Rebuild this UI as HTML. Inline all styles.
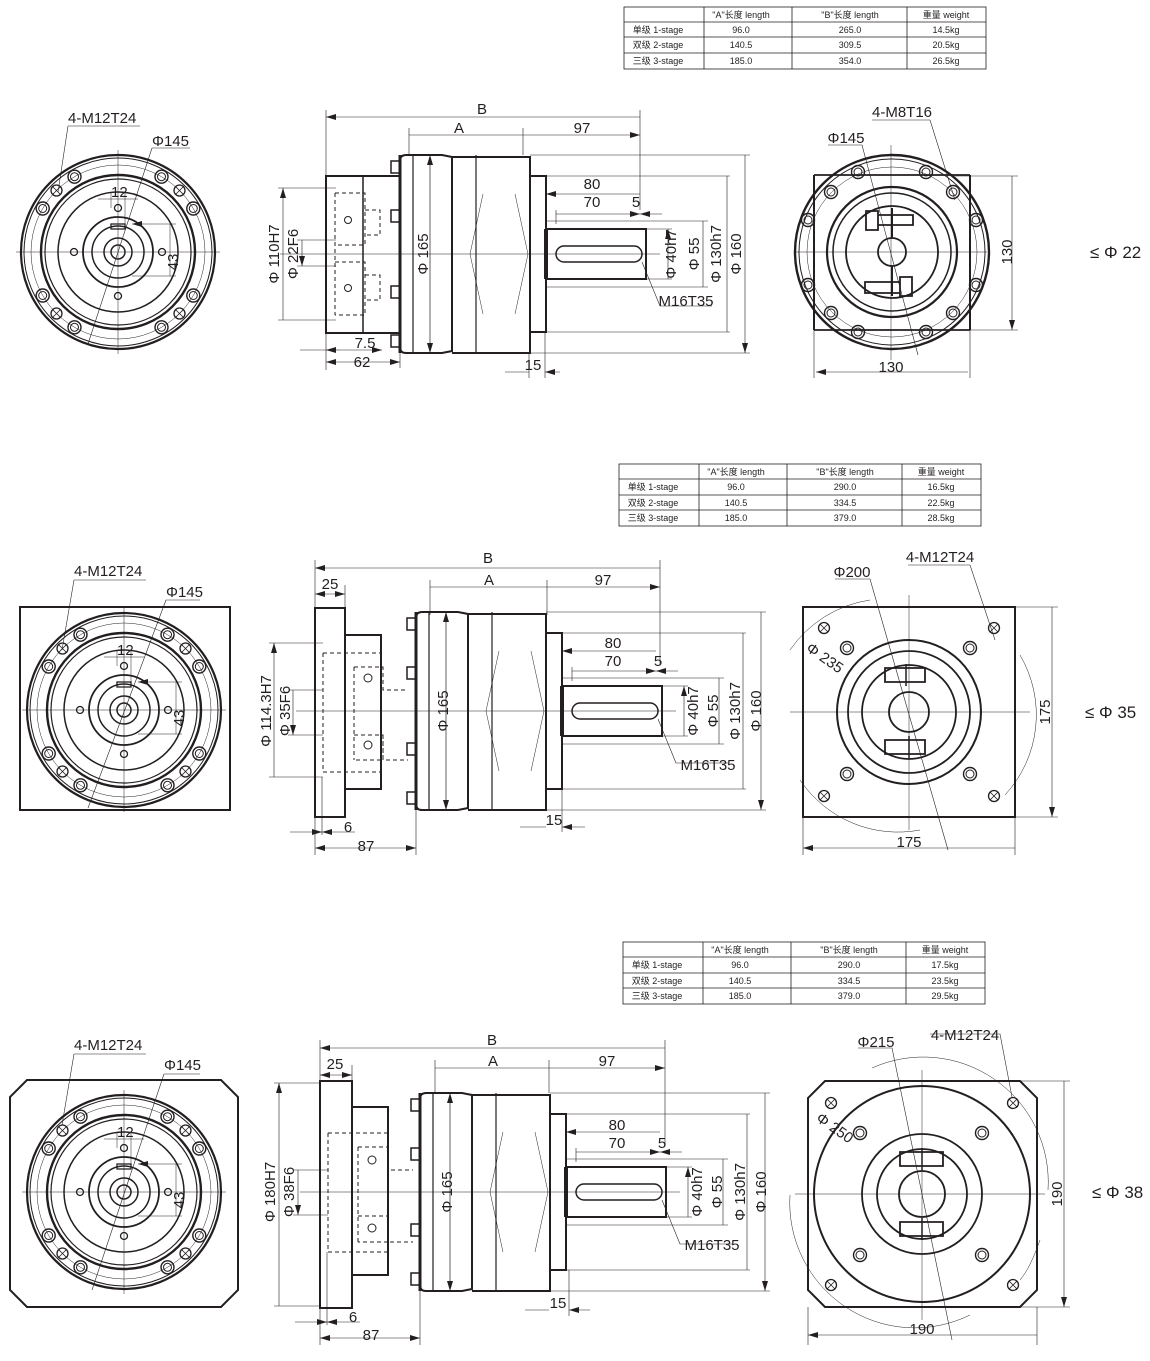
<!DOCTYPE html>
<html><head><meta charset="utf-8"><style>
body{margin:0;background:#fff;}
svg{display:block;}
text{font-family:"Liberation Sans Narrow","Liberation Sans","Noto Sans CJK SC",sans-serif;fill:#231f20;}
.t{font-size:9px;}
.d{font-size:15px;}
</style></head><body>
<svg width="1150" height="1361" viewBox="0 0 1150 1361" xmlns="http://www.w3.org/2000/svg">
<defs>
<marker id="a" markerWidth="10" markerHeight="6" refX="10" refY="3" orient="auto-start-reverse" markerUnits="userSpaceOnUse"><path d="M0,0 L10,3 L0,6 z" fill="#231f20"/></marker>
<g id="hb"><circle r="6.5" fill="none" stroke="#231f20" stroke-width="1.4"/><circle r="4" fill="none" stroke="#231f20" stroke-width="1"/></g>
<g id="hx"><circle r="5.5" fill="none" stroke="#231f20" stroke-width="1.3"/><path d="M-4,-4L4,4M-4,4L4,-4" stroke="#231f20" stroke-width="0.8"/></g>
<g id="lc" fill="none" stroke="#231f20">
<circle r="97" stroke-width="2.2"/><circle r="94" stroke-width="1"/><circle r="87" stroke-width="0.5"/>
<circle r="77" stroke-width="2.4"/><circle r="73" stroke-width="1.2"/><circle r="60" stroke-width="1.5"/>
<circle r="35" stroke-width="1.8"/><circle r="26" stroke-width="1.5"/><circle r="14" stroke-width="1.5"/><circle r="7" stroke-width="1.5"/>
<use href="#hb" x="-43.5" y="-75.3"/><use href="#hb" x="43.5" y="-75.3"/><use href="#hb" x="-75.3" y="-43.5"/><use href="#hb" x="75.3" y="-43.5"/>
<use href="#hb" x="-43.5" y="75.3"/><use href="#hb" x="43.5" y="75.3"/><use href="#hb" x="-75.3" y="43.5"/><use href="#hb" x="75.3" y="43.5"/>
<use href="#hx" x="-61.5" y="-61.5"/><use href="#hx" x="61.5" y="-61.5"/><use href="#hx" x="-61.5" y="61.5"/><use href="#hx" x="61.5" y="61.5"/>
<circle cx="0" cy="-44" r="3.5" stroke-width="1.3"/><circle cx="0" cy="44" r="3.5" stroke-width="1.3"/><circle cx="-44" cy="0" r="3.5" stroke-width="1.3"/><circle cx="44" cy="0" r="3.5" stroke-width="1.3"/>
<rect x="-7" y="-28" width="14" height="5" stroke-width="1.3"/>
<path d="M-102,0H102M0,-102V102" stroke-width="0.5"/>
<path d="M-7,-44V-60M7,-28V-60M-20,-53H20" stroke-width="0.5"/>
<path d="M14,-28H58M14,24H58M52,-28V24" stroke-width="0.5" marker-start="url(#a)"/>
</g>
<g id="mb" fill="none" stroke="#231f20">
<path d="M0,-93 Q0,-99 6,-99 H42 L52,-97 V97 L42,99 H6 Q0,99 0,93 Z" stroke-width="2"/>
<path d="M52,-97 H130 V99 H52" stroke-width="2"/>
<path d="M13,-99V99M76,-99V99" stroke-width="1.2"/>
<path d="M0,-99V99" stroke-width="3"/>
<path d="M83,-60 L70,0 L83,60 M115,-60 L128,0 L115,60" stroke-width="0.5"/>
<rect x="130" y="-78" width="16" height="156" stroke-width="2"/>
<rect x="146" y="-25" width="100" height="50" stroke-width="2"/>
<path d="M146,-25V25" stroke-width="4"/>
<rect x="156" y="-8" width="86" height="16" rx="8" stroke-width="1.5"/>
<rect x="-9" y="-93" width="9" height="12" stroke-width="1.5"/><rect x="-9" y="-44" width="9" height="12" stroke-width="1.5"/>
<rect x="-9" y="32" width="9" height="12" stroke-width="1.5"/><rect x="-9" y="81" width="9" height="12" stroke-width="1.5"/>
<path d="M-120,0H260" stroke-width="0.5"/>
<path d="M30,-99V99" stroke-width="0.7" marker-start="url(#a)" marker-end="url(#a)"/>
</g>
<g id="sh" fill="none" stroke="#231f20" stroke-width="0.6">
<path d="M246,-25H272M246,25H272M146,-33H308M146,33H308M146,-78H330M146,78H330M130,-99H350M130,99H350"/>
<path d="M268,-25V25M303,-33V33M327,-78V78M345,-99V99" marker-start="url(#a)" marker-end="url(#a)"/>
<path d="M242,8 L260,52 H312"/>
<path d="M146,-60H240M156,-40H240" marker-start="url(#a)" marker-end="url(#a)"/>
<path d="M240,-40H262" marker-start="url(#a)"/>
<path d="M146,-30V-64M156,-30V-44"/>
</g>
</defs>

<!-- TABLES -->
<g stroke="#231f20" stroke-width="0.8" fill="none">
<rect x="624" y="7" width="362" height="62"/><path d="M624,22H986M624,37H986M624,53H986M704,7V69M792,7V69M907,7V69"/>
<rect x="619" y="464" width="362" height="62"/><path d="M619,479H981M619,495H981M619,510H981M699,464V526M787,464V526M902,464V526"/>
<rect x="623" y="942" width="362" height="62"/><path d="M623,957H985M623,973H985M623,988H985M703,942V1004M791,942V1004M906,942V1004"/>
</g>
<g class="t" text-anchor="middle">
<text x="741" y="18">"A"长度 length</text><text x="850" y="18">"B"长度  length</text><text x="946" y="18">重量 weight</text>
<text x="658" y="33">单级 1-stage</text><text x="741" y="33">96.0</text><text x="850" y="33">265.0</text><text x="946" y="33">14.5kg</text>
<text x="658" y="48">双级 2-stage</text><text x="741" y="48">140.5</text><text x="850" y="48">309.5</text><text x="946" y="48">20.5kg</text>
<text x="658" y="64">三级 3-stage</text><text x="741" y="64">185.0</text><text x="850" y="64">354.0</text><text x="946" y="64">26.5kg</text>

<text x="736" y="475">"A"长度 length</text><text x="845" y="475">"B"长度  length</text><text x="941" y="475">重量 weight</text>
<text x="653" y="490">单级 1-stage</text><text x="736" y="490">96.0</text><text x="845" y="490">290.0</text><text x="941" y="490">16.5kg</text>
<text x="653" y="506">双级 2-stage</text><text x="736" y="506">140.5</text><text x="845" y="506">334.5</text><text x="941" y="506">22.5kg</text>
<text x="653" y="521">三级 3-stage</text><text x="736" y="521">185.0</text><text x="845" y="521">379.0</text><text x="941" y="521">28.5kg</text>

<text x="740" y="953">"A"长度 length</text><text x="849" y="953">"B"长度  length</text><text x="945" y="953">重量 weight</text>
<text x="657" y="968">单级 1-stage</text><text x="740" y="968">96.0</text><text x="849" y="968">290.0</text><text x="945" y="968">17.5kg</text>
<text x="657" y="984">双级 2-stage</text><text x="740" y="984">140.5</text><text x="849" y="984">334.5</text><text x="945" y="984">23.5kg</text>
<text x="657" y="999">三级 3-stage</text><text x="740" y="999">185.0</text><text x="849" y="999">379.0</text><text x="945" y="999">29.5kg</text>
</g>

<!-- LEFT VIEWS -->
<use href="#lc" x="118" y="252"/>
<rect x="20" y="607" width="210" height="203" fill="none" stroke="#231f20" stroke-width="2"/>
<use href="#lc" x="124" y="710"/>
<path d="M27,1080 H221 L238,1097 V1290 L221,1307 H27 L10,1290 V1097 Z" fill="none" stroke="#231f20" stroke-width="2"/>
<use href="#lc" x="124" y="1192"/>
<g stroke="#231f20" stroke-width="0.6" fill="none">
<path d="M68,126H140 M68,126 L58,192"/><path d="M152,148H190 M152,148 L88,344"/>
<path d="M74,580H146 M74,580 L62,650"/><path d="M166,600H200 M166,600 L88,808"/>
<path d="M74,1054H146 M74,1054 L62,1125"/><path d="M164,1074H200 M164,1074 L92,1290"/>
</g>
<g class="d">
<text x="68" y="123">4-M12T24</text><text x="152" y="146">Φ145</text><text x="111" y="197">12</text><text x="178" y="262" transform="rotate(-90 178 262)" text-anchor="middle">43</text>
<text x="74" y="576">4-M12T24</text><text x="166" y="597">Φ145</text><text x="117" y="655">12</text><text x="184" y="718" transform="rotate(-90 184 718)" text-anchor="middle">43</text>
<text x="74" y="1050">4-M12T24</text><text x="164" y="1070">Φ145</text><text x="117" y="1137">12</text><text x="184" y="1200" transform="rotate(-90 184 1200)" text-anchor="middle">43</text>
</g>

<!-- SIDE VIEWS -->
<g fill="none" stroke="#231f20">
<rect x="326" y="176" width="74" height="157" stroke-width="2"/><path d="M363,176V333" stroke-width="1.5"/>
<path d="M335,193H365V245H335M335,262H365V315H335M335,193V315M365,210H380V235H365M365,275H380V300H365" stroke-width="1" stroke-dasharray="4,3"/>
<circle cx="348" cy="220" r="3.5" stroke-width="1"/><circle cx="348" cy="288" r="3.5" stroke-width="1"/>
<rect x="315" y="608" width="30" height="209" stroke-width="2"/><rect x="345" y="635" width="36" height="154" stroke-width="2"/>
<path d="M323,653H381M323,772H381M323,653V772M354,667H383V690H408M354,735H383V760H354M354,667V760M383,735V760H408" stroke-width="1" stroke-dasharray="4,3"/>
<circle cx="368" cy="678" r="4" stroke-width="1"/><circle cx="368" cy="745" r="4" stroke-width="1"/>
<rect x="320" y="1081" width="32" height="227" stroke-width="2"/><rect x="352" y="1107" width="36" height="168" stroke-width="2"/>
<path d="M328,1133H388M328,1252H388M328,1133V1252M358,1147H388V1170H413M358,1216H388V1242H358M358,1147V1242M388,1216V1242H413" stroke-width="1" stroke-dasharray="4,3"/>
<circle cx="372" cy="1160" r="4" stroke-width="1"/><circle cx="372" cy="1228" r="4" stroke-width="1"/>
</g>
<use href="#mb" x="400" y="254"/><use href="#sh" x="400" y="254"/>
<use href="#mb" x="416" y="711"/><use href="#sh" x="416" y="711"/>
<use href="#mb" x="420" y="1192"/><use href="#sh" x="420" y="1192"/>

<g stroke="#231f20" stroke-width="0.6" fill="none">
<path d="M326,117H640M409,135H523M523,135H640" marker-start="url(#a)" marker-end="url(#a)"/>
<path d="M326,110V370M409,128V155M523,128V155M640,110V210"/>
<path d="M283,188V320M302,240V266" marker-start="url(#a)" marker-end="url(#a)"/>
<path d="M278,188H336M278,320H336M297,240H336M297,266H336"/>
<path d="M326,362H400" marker-start="url(#a)" marker-end="url(#a)"/><path d="M400,333V368"/>
<path d="M300,350H326M340,350H382" marker-end="url(#a)"/><path d="M340,350H326" marker-end="url(#a)"/>
<path d="M505,372H529M560,372H545" marker-end="url(#a)"/><path d="M529,353V378M545,333V378"/>
<path d="M315,568H660M430,587H547M547,587H660" marker-start="url(#a)" marker-end="url(#a)"/>
<path d="M315,560V855M430,580V615M547,580V615M660,560V665M345,585V608"/>
<path d="M315,594H345" marker-start="url(#a)" marker-end="url(#a)"/>
<path d="M274,643V777M293,690V735" marker-start="url(#a)" marker-end="url(#a)"/>
<path d="M269,643H323M269,777H323M288,690H323M288,735H323"/>
<path d="M315,848H416" marker-start="url(#a)" marker-end="url(#a)"/><path d="M416,808V855M322,777V835"/>
<path d="M290,832H322" marker-end="url(#a)"/><path d="M355,832H322" marker-end="url(#a)"/>
<path d="M520,827H546M585,827H562" marker-end="url(#a)"/><path d="M562,789V832"/>
<path d="M320,1048H665M435,1068H549M549,1068H665" marker-start="url(#a)" marker-end="url(#a)"/>
<path d="M320,1040V1345M435,1060V1093M549,1060V1093M665,1040V1146M352,1065V1081"/>
<path d="M320,1075H352" marker-start="url(#a)" marker-end="url(#a)"/>
<path d="M279,1083V1306M298,1170V1215" marker-start="url(#a)" marker-end="url(#a)"/>
<path d="M274,1083H320M274,1306H320M293,1170H328M293,1215H328"/>
<path d="M320,1338H420" marker-start="url(#a)" marker-end="url(#a)"/><path d="M420,1291V1345M327,1252V1325"/>
<path d="M295,1322H327" marker-end="url(#a)"/><path d="M360,1322H327" marker-end="url(#a)"/>
<path d="M525,1310H549M590,1310H569" marker-end="url(#a)"/><path d="M569,1270V1316"/>
</g>
<g class="d" text-anchor="middle">
<text x="482" y="114">B</text><text x="459" y="133">A</text><text x="582" y="133">97</text>
<text x="592" y="189">80</text><text x="592" y="207">70</text><text x="636" y="207">5</text>
<text x="365" y="348">7.5</text><text x="362" y="367">62</text><text x="533" y="370">15</text>
<text x="686" y="306">M16T35</text>
<text transform="translate(279,254) rotate(-90)">Φ 110H7</text><text transform="translate(298,254) rotate(-90)">Φ 22F6</text>
<text transform="translate(428,254) rotate(-90)">Φ 165</text>
<text transform="translate(676,254) rotate(-90)">Φ 40h7</text><text transform="translate(699,254) rotate(-90)">Φ 55</text>
<text transform="translate(721,254) rotate(-90)">Φ 130h7</text><text transform="translate(741,254) rotate(-90)">Φ 160</text>

<text x="488" y="563">B</text><text x="489" y="585">A</text><text x="603" y="585">97</text>
<text x="330" y="589">25</text>
<text x="613" y="648">80</text><text x="613" y="666">70</text><text x="658" y="666">5</text>
<text x="348" y="832">6</text><text x="366" y="851">87</text><text x="554" y="825">15</text>
<text x="708" y="770">M16T35</text>
<text transform="translate(271,711) rotate(-90)">Φ 114.3H7</text><text transform="translate(290,711) rotate(-90)">Φ 35F6</text>
<text transform="translate(448,711) rotate(-90)">Φ 165</text>
<text transform="translate(698,711) rotate(-90)">Φ 40h7</text><text transform="translate(718,711) rotate(-90)">Φ 55</text>
<text transform="translate(740,711) rotate(-90)">Φ 130h7</text><text transform="translate(761,711) rotate(-90)">Φ 160</text>

<text x="492" y="1045">B</text><text x="493" y="1066">A</text><text x="607" y="1066">97</text>
<text x="335" y="1069">25</text>
<text x="617" y="1130">80</text><text x="617" y="1148">70</text><text x="662" y="1148">5</text>
<text x="353" y="1322">6</text><text x="371" y="1340">87</text><text x="558" y="1308">15</text>
<text x="712" y="1250">M16T35</text>
<text transform="translate(275,1192) rotate(-90)">Φ 180H7</text><text transform="translate(294,1192) rotate(-90)">Φ 38F6</text>
<text transform="translate(452,1192) rotate(-90)">Φ 165</text>
<text transform="translate(702,1192) rotate(-90)">Φ 40h7</text><text transform="translate(722,1192) rotate(-90)">Φ 55</text>
<text transform="translate(745,1192) rotate(-90)">Φ 130h7</text><text transform="translate(766,1192) rotate(-90)">Φ 160</text>
</g>

<!-- RIGHT VIEWS -->
<!-- row1 -->
<g fill="none" stroke="#231f20">
<circle cx="892" cy="252" r="97" stroke-width="2.4"/><circle cx="892" cy="252" r="93" stroke-width="1"/>
<circle cx="892" cy="252" r="85" stroke-width="0.5"/>
<path d="M814,175H970M814,330H970" stroke-width="1.8"/>
<path d="M814,175V330M970,175V330" stroke-width="2"/>
<use href="#hb" x="858" y="172"/><use href="#hb" x="926" y="172"/><use href="#hb" x="858" y="332"/><use href="#hb" x="926" y="332"/>
<use href="#hb" x="808" y="220"/><use href="#hb" x="976" y="220"/><use href="#hb" x="808" y="285"/><use href="#hb" x="976" y="285"/>
<circle cx="892" cy="252" r="65" stroke-width="2.2"/><circle cx="892" cy="252" r="59" stroke-width="1.5"/><circle cx="892" cy="252" r="46" stroke-width="1.8"/>
<circle cx="892" cy="252" r="14" stroke-width="1.8"/>
<use href="#hb" x="831" y="192"/><use href="#hb" x="953" y="192"/><use href="#hb" x="831" y="313"/><use href="#hb" x="953" y="313"/>
<path d="M866,211h12v19h-12zM878,215h35v10h-35zM865,282h35v11h-35zM900,277h12v19h-12z" stroke-width="1.8"/>
<path d="M892,208v30M892,266v30" stroke-width="2"/>
<path d="M795,252H987M891,145V360" stroke-width="0.5"/>
<path d="M816,372H968M1012,176V330" stroke-width="0.6" marker-start="url(#a)" marker-end="url(#a)"/>
<path d="M814,305V378M970,305V378M955,176H1018M955,330H1018" stroke-width="0.6"/>
<path d="M872,120H930 L955,200M828,145H862 L918,355" stroke-width="0.6"/>
</g>
<g class="d" text-anchor="middle"><text x="891" y="372">130</text><text transform="translate(1012,252) rotate(-90)">130</text>
<text x="902" y="117">4-M8T16</text><text x="846" y="143">Φ145</text></g>
<text x="1090" y="258" style="font-size:17px">≤ Φ 22</text>

<!-- row2 -->
<g fill="none" stroke="#231f20">
<rect x="803" y="607" width="212" height="210" stroke-width="2"/>
<circle cx="909" cy="712" r="72" stroke-width="2"/><circle cx="909" cy="712" r="61" stroke-width="1.8"/><circle cx="909" cy="712" r="47" stroke-width="1.8"/>
<circle cx="909" cy="712" r="20" stroke-width="1.8"/>
<use href="#hx" x="824" y="628"/><use href="#hx" x="994" y="628"/><use href="#hx" x="824" y="796"/><use href="#hx" x="994" y="796"/>
<use href="#hb" x="847" y="648"/><use href="#hb" x="970" y="648"/><use href="#hb" x="847" y="774"/><use href="#hb" x="970" y="774"/>
<path d="M885,668h40v14h-40zM885,740h40v14h-40z" stroke-width="1.8"/><path d="M906,664v22M909,736v22" stroke-width="1.5"/>
<path d="M790,712H1030M909,595V830" stroke-width="0.5"/>
<path d="M803,848H1015M1052,607V817" stroke-width="0.6" marker-start="url(#a)" marker-end="url(#a)"/>
<path d="M803,817V855M1015,817V855M1015,607H1058M1015,817H1058" stroke-width="0.6"/>
<path d="M835,579H870 L948,850M908,565H970 L995,640" stroke-width="0.6"/>
<path d="M790,650 A118,118 0 0 1 870,600M1020,655 A118,118 0 0 1 1005,795M800,780 A118,118 0 0 0 920,830" stroke-width="0.5"/>
</g>
<g class="d" text-anchor="middle"><text x="909" y="847">175</text><text transform="translate(1050,712) rotate(-90)">175</text>
<text x="940" y="562">4-M12T24</text><text x="852" y="577">Φ200</text>
<text transform="translate(822,662) rotate(35)">Φ 235</text></g>
<text x="1085" y="718" style="font-size:17px">≤ Φ 35</text>

<!-- row3 -->
<g fill="none" stroke="#231f20">
<path d="M825,1081 H1020 L1037,1098 V1290 L1020,1307 H825 L808,1290 V1098 Z" stroke-width="2"/>
<circle cx="922" cy="1194" r="108" stroke-width="2"/><circle cx="922" cy="1194" r="60" stroke-width="1.8"/><circle cx="922" cy="1194" r="45" stroke-width="1.8"/>
<circle cx="922" cy="1194" r="23" stroke-width="1.8"/>
<use href="#hx" x="831" y="1103"/><use href="#hx" x="1013" y="1103"/><use href="#hx" x="831" y="1285"/><use href="#hx" x="1013" y="1285"/>
<use href="#hb" x="860" y="1133"/><use href="#hb" x="982" y="1133"/><use href="#hb" x="860" y="1255"/><use href="#hb" x="982" y="1255"/>
<path d="M900,1152h43v14h-43zM900,1222h43v14h-43z" stroke-width="1.8"/><path d="M922,1148v22M922,1218v22" stroke-width="1.5"/>
<path d="M795,1194H1045M922,1070V1320" stroke-width="0.5"/>
<path d="M808,1335H1037M1064,1081V1307" stroke-width="0.6" marker-start="url(#a)" marker-end="url(#a)"/>
<path d="M808,1307V1345M1037,1307V1345M1020,1081H1070M1020,1307H1070" stroke-width="0.6"/>
<path d="M858,1048H892 L952,1340M930,1034H1000 L1012,1097" stroke-width="0.6"/>
<path d="M872,1068 A125,125 0 0 1 1048,1190M1040,1240 A125,1250 0 0 1 1020,1280M790,1195 A125,125 0 0 0 970,1315" stroke-width="0.5"/>
</g>
<g class="d" text-anchor="middle"><text x="922" y="1334">190</text><text transform="translate(1062,1194) rotate(-90)">190</text>
<text x="965" y="1040">4-M12T24</text><text x="876" y="1047">Φ215</text>
<text transform="translate(832,1132) rotate(35)">Φ 250</text></g>
<text x="1092" y="1198" style="font-size:17px">≤ Φ 38</text>
</svg>
</body></html>
